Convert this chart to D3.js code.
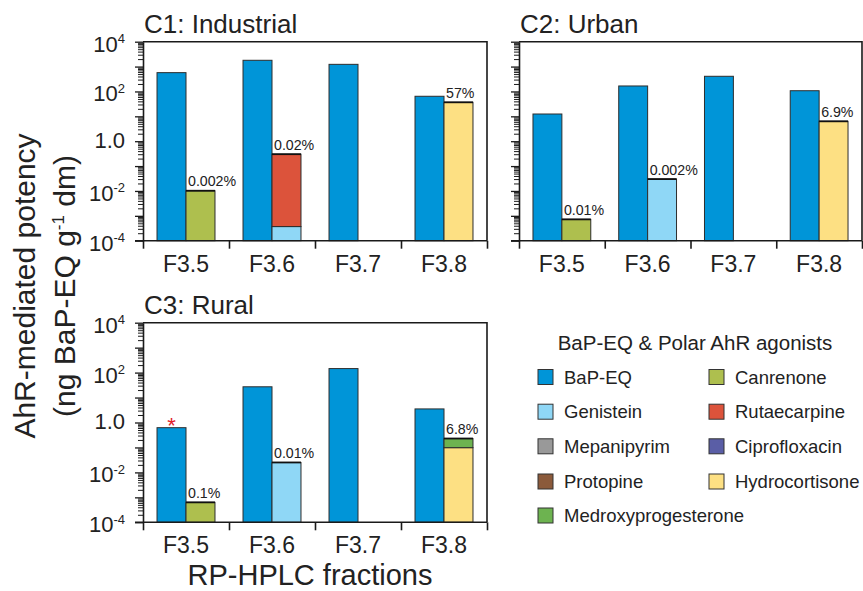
<!DOCTYPE html>
<html>
<head>
<meta charset="utf-8">
<script src="https://cdn.jsdelivr.net/npm/d3@7"></script>
<style>
  html, body { margin: 0; padding: 0; background: #fff; }
  svg { display: block; font-family: "Liberation Sans", Arial, Helvetica, sans-serif; }
</style>
</head>
<body>
<svg id="chart" width="863" height="591"></svg>
<script>
// RP-HPLC fractions shown in every panel
const fractions = ["F3.5", "F3.6", "F3.7", "F3.8"];

// Legend entries (two columns) and their fills
const compounds = ["BaP-EQ", "Genistein", "Mepanipyrim", "Protopine", "Medroxyprogesterone",
                   "Canrenone", "Rutaecarpine", "Ciprofloxacin", "Hydrocortisone"];
const compoundColors = ["#0095d8", "#8fd7f6", "#999999", "#8b5a3b", "#6db350",
                        "#aebf4e", "#dc533b", "#5a5ea6", "#fde083"];

// Bio-assay potency (ng BaP-EQ g-1 dm) per fraction
const industrialBaP = [570, 1790, 1230, 64];
const urbanBaP = [12.4, 166, 407, 107];
const ruralBaP = [0.62, 27, 145, 3.5];

// Potency explained by identified polar AhR agonists, stacked per fraction
const industrialPolar = [[["Canrenone", 0.0102]],
                         [["Genistein", 0.00037], ["Rutaecarpine", 0.30]],
                         [],
                         [["Hydrocortisone", 36.6]]];
const urbanPolar = [[["Canrenone", 0.00072]],
                    [["Genistein", 0.030]],
                    [],
                    [["Hydrocortisone", 6.3]]];
const ruralPolar = [[["Canrenone", 0.00063]],
                    [["Genistein", 0.025]],
                    [],
                    [["Hydrocortisone", 0.098], ["Medroxyprogesterone", 0.13]]];

// Share of BaP-EQ explained, printed above the agonist bars
const industrialShare = ["0.002%", "0.02%", "", "57%"];
const urbanShare = ["0.01%", "0.002%", "", "6.9%"];
const ruralShare = ["0.1%", "0.01%", "", "6.8%"];

// Y-axis decade labels
const decadeTicks = [1e4, 1e2, 1, 1e-2, 1e-4];
const decadeLabels = [["10", "4"], ["10", "2"], ["1.0", ""], ["10", "-2"], ["10", "-4"]];

const colorOf = d3.scaleOrdinal().domain(compounds).range(compoundColors);
const svg = d3.select("#chart");
const FLOOR = 1e-4;

function panel(opts) {
  const { x0, x1, yTop, yBot, title, bap, polar, share, marked, yLabels } = opts;
  const g = svg.append("g");
  const y = d3.scaleLog().domain([1e-4, 1e4]).range([yBot, yTop]);
  const x = d3.scaleBand().domain(fractions).range([x0, x1])
    .paddingInner(0.326).paddingOuter(0.163);
  const xs = d3.scaleBand().domain(["bap", "polar"]).range([0, x.bandwidth()]);
  const edges = d3.scaleLinear().domain([0, fractions.length]).range([x0, x1]);

  // frame (top and right)
  g.append("path")
    .attr("d", `M${x0},${yTop}H${x1}V${yBot}`)
    .attr("fill", "none").attr("stroke", "#1a1a1a").attr("stroke-width", 1.6);

  // bars: BaP-EQ
  g.selectAll("rect.bap").data(bap).join("rect")
    .attr("class", "bap")
    .attr("x", (d, i) => x(fractions[i]) + xs("bap"))
    .attr("width", xs.bandwidth())
    .attr("y", d => y(d))
    .attr("height", d => y(FLOOR) - y(d))
    .attr("fill", colorOf("BaP-EQ"))
    .attr("stroke", "#2d2d2d").attr("stroke-width", 1);

  // bars: stacked polar AhR agonists
  polar.forEach((segs, i) => {
    let cum = 0;
    segs.forEach(([name, v], k) => {
      const lo = k === 0 ? FLOOR : cum;
      cum += v;
      g.append("rect")
        .attr("x", x(fractions[i]) + xs("polar"))
        .attr("width", xs.bandwidth())
        .attr("y", y(cum))
        .attr("height", y(lo) - y(cum))
        .attr("fill", colorOf(name))
        .attr("stroke", "#2d2d2d").attr("stroke-width", 1);
    });
    if (segs.length) {
      g.append("line")
        .attr("x1", x(fractions[i]) + xs("polar"))
        .attr("x2", x(fractions[i]) + xs("polar") + xs.bandwidth())
        .attr("y1", y(cum)).attr("y2", y(cum))
        .attr("stroke", "#111").attr("stroke-width", 1.8);
    }
    if (share[i]) {
      g.append("text")
        .attr("x", x(fractions[i]) + xs("polar") + 2)
        .attr("y", y(cum) - 4.5)
        .attr("font-size", 14.2).attr("fill", "#222")
        .text(share[i]);
    }
  });

  if (marked !== undefined) {
    g.append("text")
      .attr("x", x(fractions[marked]) + xs("bap") + xs.bandwidth() / 2)
      .attr("y", y(bap[marked]) + 5)
      .attr("text-anchor", "middle")
      .attr("font-size", 22).attr("fill", "#e0202a")
      .text("*");
  }

  // y axis: decade ticks and minor ticks
  const minor = [];
  for (let e = -4; e < 4; e++) for (let m = 2; m <= 9; m++) minor.push(m * Math.pow(10, e));
  const decades = d3.range(-4, 5).map(e => Math.pow(10, e));
  g.append("g").attr("transform", `translate(${x0},0)`)
    .call(d3.axisLeft(y).tickValues(minor).tickSize(5).tickFormat(""))
    .call(a => a.select(".domain").remove())
    .call(a => a.selectAll("line").attr("stroke", "#1a1a1a").attr("stroke-width", 1));
  g.append("g").attr("transform", `translate(${x0},0)`)
    .call(d3.axisLeft(y).tickValues(decades).tickSize(8).tickSizeOuter(0).tickFormat(""))
    .call(a => a.select(".domain").attr("stroke", "#1a1a1a").attr("stroke-width", 1.6))
    .call(a => a.selectAll("line").attr("stroke", "#1a1a1a").attr("stroke-width", 1.3));

  // decade labels with superscript exponents
  if (yLabels) {
    decadeTicks.forEach((v, i) => {
      const [base, exp] = decadeLabels[i];
      const t = g.append("text")
        .attr("x", x0 - 18)
        .attr("y", y(v) + (exp ? 10 : 6.5))
        .attr("text-anchor", "end")
        .attr("font-size", 22).attr("fill", "#222");
      t.append("tspan").text(base);
      if (exp) t.append("tspan").attr("font-size", 13).attr("dy", -8.5).text(exp);
    });
  }

  // x axis with ticks at fraction boundaries
  g.append("g").attr("transform", `translate(0,${yBot})`)
    .call(d3.axisBottom(edges).tickValues(d3.range(0, fractions.length + 1))
      .tickSize(8).tickSizeOuter(0).tickFormat(""))
    .call(a => a.select(".domain").attr("d", `M${x0 - 8},0H${x1}`)
      .attr("stroke", "#1a1a1a").attr("stroke-width", 1.6))
    .call(a => a.selectAll("line").attr("stroke", "#1a1a1a").attr("stroke-width", 1.6));
  g.append("g").attr("transform", `translate(0,${yBot})`)
    .call(d3.axisBottom(x).tickSize(0).tickPadding(0))
    .call(a => a.select(".domain").remove())
    .call(a => a.selectAll("text")
      .attr("y", 31).attr("dy", null)
      .attr("font-size", 23).attr("fill", "#222")
      .attr("font-family", "Liberation Sans, Arial, sans-serif"));

  svg.append("text")
    .attr("x", x0 + 1).attr("y", yTop - 8.5)
    .attr("font-size", 26).attr("fill", "#222")
    .text(title);
}

panel({ x0: 143, x1: 487, yTop: 41.7, yBot: 240.7, title: "C1: Industrial",
        bap: industrialBaP, polar: industrialPolar, share: industrialShare, yLabels: true });
panel({ x0: 519, x1: 862, yTop: 41.7, yBot: 240.7, title: "C2: Urban",
        bap: urbanBaP, polar: urbanPolar, share: urbanShare, yLabels: false });
panel({ x0: 143, x1: 487, yTop: 322.7, yBot: 522.3, title: "C3: Rural",
        bap: ruralBaP, polar: ruralPolar, share: ruralShare, marked: 0, yLabels: true });

// shared axis titles
const yTitle = svg.append("text")
  .attr("transform", "translate(35,286) rotate(-90)")
  .attr("text-anchor", "middle").attr("font-size", 30).attr("fill", "#222");
yTitle.append("tspan").attr("x", 0).attr("y", 0).text("AhR-mediated potency");
const line2 = yTitle.append("tspan").attr("x", 0).attr("y", 40);
line2.append("tspan").text("(ng BaP-EQ g");
line2.append("tspan").attr("font-size", 17).attr("dy", -11).text("-1");
line2.append("tspan").attr("dy", 11).text(" dm)");

svg.append("text")
  .attr("x", 310).attr("y", 585)
  .attr("text-anchor", "middle").attr("font-size", 29).attr("fill", "#222")
  .text("RP-HPLC fractions");

// legend
const legend = svg.append("g");
legend.append("text")
  .attr("x", 695).attr("y", 350)
  .attr("text-anchor", "middle").attr("font-size", 20.5).attr("fill", "#222")
  .text("BaP-EQ & Polar AhR agonists");
const colX = [538, 709];
const rowY = [377, 411.7, 446.3, 481.5, 515.5];
compounds.forEach((name, i) => {
  const col = i < 5 ? 0 : 1;
  const row = i < 5 ? i : i - 5;
  legend.append("rect")
    .attr("x", colX[col]).attr("y", rowY[row] - 7.5)
    .attr("width", 15).attr("height", 15)
    .attr("fill", colorOf(name)).attr("stroke", "#333").attr("stroke-width", 1);
  legend.append("text")
    .attr("x", colX[col] + 26).attr("y", rowY[row] + 6.7)
    .attr("font-size", 18.5).attr("fill", "#222")
    .text(name);
});
</script>
</body>
</html>
